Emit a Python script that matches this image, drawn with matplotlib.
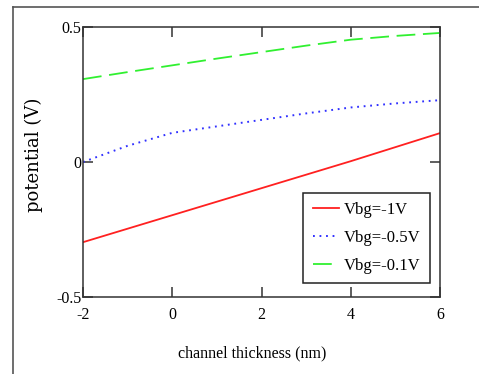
import numpy as np
import matplotlib
matplotlib.use('Agg')
import matplotlib.pyplot as plt
from matplotlib.lines import Line2D

# -----------------------------------------------------------------------------
# donnees
# -----------------------------------------------------------------------------
x_nm = [-2, -1, 0, 1, 2, 3, 4, 5, 6]
v_1 = [-0.297, -0.247, -0.197, -0.147, -0.097, -0.047, 0.003, 0.055, 0.107]
v_05 = [0.0, 0.06, 0.108, 0.132, 0.156, 0.18, 0.202, 0.217, 0.229]
v_01 = [0.307, 0.333, 0.358, 0.383, 0.407, 0.431, 0.453, 0.467, 0.478]
labels = ['Vbg=-1V', 'Vbg=-0.5V', 'Vbg=-0.1V']

plt.rcParams['font.family'] = ['Liberation Serif', 'DejaVu Serif']
plt.rcParams['lines.scale_dashes'] = False
plt.rcParams['axes.unicode_minus'] = False

fig = plt.figure(figsize=(4.79, 3.74), dpi=100)
ax = fig.add_axes([83/479, 1-297/374, 357/479, 270/374])

ax.plot(x_nm, v_1, color='#ff2020', lw=1.3, label=labels[0])
ax.plot(x_nm, v_05, color='#3030ff', lw=1.4, dashes=(1.3, 3.4), label=labels[1])
ax.plot(x_nm, v_01, color='#30f030', lw=1.3, dashes=(13.5, 5.5), label=labels[2])

ax.set_xlim(-2, 6)
ax.set_ylim(-0.5, 0.5)
ax.set_xticks([-2, 0, 2, 4, 6])
ax.set_yticks([-0.5, 0, 0.5])
ax.set_yticklabels(['-0.5', '0', '0.5'])
ax.tick_params(direction='in', top=True, right=True, length=7, width=1.1,
               labelsize=11.5, color='#333333')
ax.tick_params(axis='x', pad=7)
ax.tick_params(axis='y', pad=1)
for s in ax.spines.values():
    s.set_linewidth(1.1)
    s.set_color('#333333')

ax.set_xlabel('channel thickness (nm)', fontsize=11.5)
ax.xaxis.set_label_coords((252-83)/357, -(345-297)/270)
ax.set_ylabel('potential (V)', fontsize=13, family='DejaVu Serif')
ax.yaxis.set_label_coords(-(83-43)/357, (297-155)/270)

leg = ax.legend(loc='upper right', bbox_to_anchor=(0.972, 0.385), fontsize=12,
                frameon=True, fancybox=False, framealpha=1, edgecolor='#222222',
                handlelength=1.6, handletextpad=0.3, labelspacing=0.7,
                borderaxespad=0, borderpad=0.55)
leg.get_frame().set_linewidth(1.1)

# cadre exterieur
fig.add_artist(Line2D([13/479, 1], [1-7/374, 1-7/374], color='#555555', lw=1.2))
fig.add_artist(Line2D([13/479, 13/479], [0, 1-7/374], color='#555555', lw=1.2))

fig.savefig('out.png', dpi=100)
